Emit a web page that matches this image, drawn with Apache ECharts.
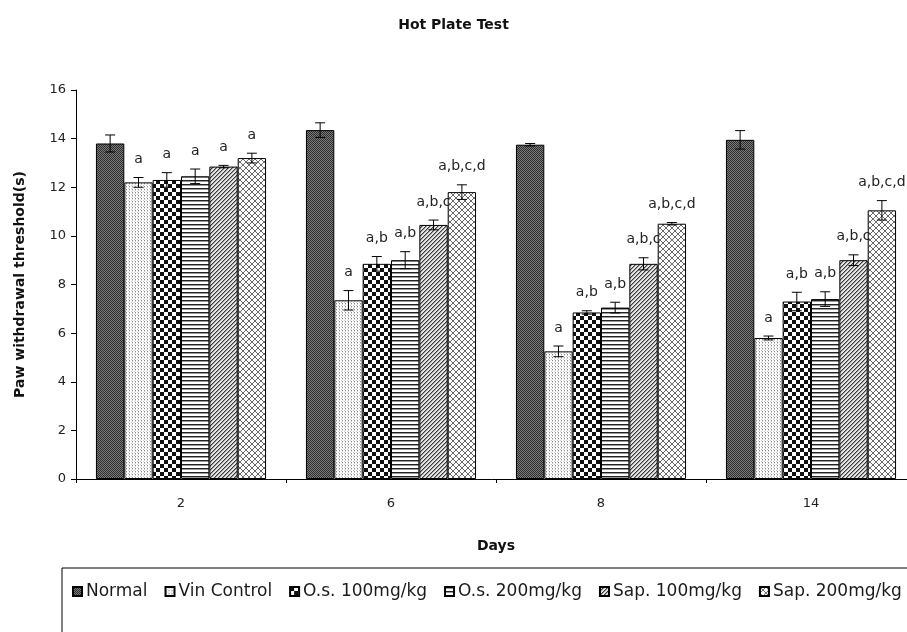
<!DOCTYPE html>
<html>
<head>
<meta charset="utf-8">
<script src="https://cdn.jsdelivr.net/npm/echarts@6/dist/echarts.min.js"></script>
<style>html,body{margin:0;padding:0;background:#fff;}#c{width:907px;height:632px;}</style>
</head>
<body>
<div id="c"></div>
<script>
// ---- data ----
var categories = ['2', '6', '8', '14'];
var seriesNames = ['Normal', 'Vin Control', 'O.s. 100mg/kg', 'O.s. 200mg/kg', 'Sap. 100mg/kg', 'Sap. 200mg/kg'];
var normal = [13.8, 14.35, 13.75, 13.95];
var vinControl = [12.2, 7.35, 5.25, 5.8];
var os100 = [12.3, 8.85, 6.85, 7.3];
var os200 = [12.45, 9.0, 7.05, 7.4];
var sap100 = [12.85, 10.45, 8.85, 9.0];
var sap200 = [13.2, 11.8, 10.5, 11.05];
var normalErr = [0.35, 0.3, 0.05, 0.38];
var vinControlErr = [0.2, 0.4, 0.22, 0.08];
var os100Err = [0.3, 0.3, 0.07, 0.38];
var os200Err = [0.3, 0.35, 0.22, 0.3];
var sap100Err = [0.05, 0.2, 0.25, 0.22];
var sap200Err = [0.2, 0.3, 0.05, 0.4];
var normalSig = ['', '', '', ''];
var vinControlSig = ['a', 'a', 'a', 'a'];
var os100Sig = ['a', 'a,b', 'a,b', 'a,b'];
var os200Sig = ['a', 'a,b', 'a,b', 'a,b'];
var sap100Sig = ['a', 'a,b,c', 'a,b,c', 'a,b,c'];
var sap200Sig = ['a', 'a,b,c,d', 'a,b,c,d', 'a,b,c,d'];
var yTicks = [0, 2, 4, 6, 8, 10, 12, 14, 16];

var values = [normal, vinControl, os100, os200, sap100, sap200];
var errs = [normalErr, vinControlErr, os100Err, os200Err, sap100Err, sap200Err];
var sigs = [normalSig, vinControlSig, os100Sig, os200Sig, sap100Sig, sap200Sig];

// ---- patterns ----
function makePattern(w, h, draw) {
  var c = document.createElement('canvas');
  c.width = w; c.height = h;
  var ctx = c.getContext('2d');
  draw(ctx, w, h);
  return { image: c, repeat: 'repeat' };
}
function px(ctx, x, y, col) { ctx.fillStyle = col; ctx.fillRect(x, y, 1, 1); }
var patterns = [
  // Normal: dark fine checker
  makePattern(2, 2, function (ctx) {
    px(ctx, 0, 0, '#2e2e2e'); px(ctx, 1, 1, '#2e2e2e');
    px(ctx, 1, 0, '#7a7a7a'); px(ctx, 0, 1, '#7a7a7a');
  }),
  // Vin Control: light dots
  makePattern(3, 3, function (ctx) {
    ctx.fillStyle = '#ffffff'; ctx.fillRect(0, 0, 3, 3);
    px(ctx, 0, 0, '#8a8a8a'); px(ctx, 0, 1, '#d0d0d0'); px(ctx, 2, 2, '#c8c8c8');
  }),
  // O.s. 100: bold checkerboard
  makePattern(8, 8, function (ctx) {
    ctx.fillStyle = '#ffffff'; ctx.fillRect(0, 0, 8, 8);
    ctx.fillStyle = '#111111'; ctx.fillRect(0, 0, 4, 4); ctx.fillRect(4, 4, 4, 4);
  }),
  // O.s. 200: horizontal stripes
  makePattern(4, 4, function (ctx) {
    ctx.fillStyle = '#ffffff'; ctx.fillRect(0, 0, 4, 4);
    ctx.fillStyle = '#222222'; ctx.fillRect(0, 0, 4, 1);
    ctx.fillStyle = '#9a9a9a'; ctx.fillRect(0, 1, 4, 1);
  }),
  // Sap. 100: fine diagonal lines
  makePattern(4, 4, function (ctx) {
    ctx.fillStyle = '#e4e4e4'; ctx.fillRect(0, 0, 4, 4);
    for (var i = 0; i < 4; i++) { px(ctx, i, 3 - i, '#3c3c3c'); px(ctx, (i + 1) % 4, 3 - i, '#9a9a9a'); }
  }),
  // Sap. 200: diagonal crosshatch
  makePattern(6, 6, function (ctx) {
    ctx.fillStyle = '#ffffff'; ctx.fillRect(0, 0, 6, 6);
    for (var i = 0; i < 6; i++) { px(ctx, i, i, '#6a6a6a'); px(ctx, i, 5 - i, '#6a6a6a'); }
  })
];

var FONT = 'DejaVu Sans';
var barGapRatio = 0.19;

var series = [];
for (var s = 0; s < seriesNames.length; s++) {
  series.push({
    name: seriesNames[s],
    type: 'bar',
    data: values[s],
    barGap: '0%',
    barCategoryGap: '19%',
    itemStyle: { color: patterns[s], borderColor: '#000', borderWidth: 1 },
    emphasis: { disabled: true }
  });
}

var errData = [];
for (var s2 = 0; s2 < values.length; s2++) {
  for (var k = 0; k < categories.length; k++) {
    errData.push([k, s2, values[s2][k], errs[s2][k], sigs[s2][k]]);
  }
}

series.push({
  name: 'errors',
  type: 'custom',
  data: errData,
  encode: { x: 0, y: 2 },
  z: 10,
  silent: true,
  clip: false,
  renderItem: function (params, api) {
    var cat = api.value(0), si = api.value(1), m = api.value(2), sd = api.value(3);
    var label = errData[params.dataIndex][4];
    var bandW = api.size([1, 0])[0];
    var n = seriesNames.length;
    var total = bandW * (1 - barGapRatio);
    var bw = total / n;
    var c = api.coord([cat, m]);
    var x = c[0] - total / 2 + (si + 0.5) * bw;
    var top = api.coord([cat, m + sd])[1];
    var bot = api.coord([cat, m - sd])[1];
    var cap = 5;
    var st = { stroke: '#000', lineWidth: 1 };
    var children = [
      { type: 'line', shape: { x1: x, y1: top, x2: x, y2: bot }, style: st },
      { type: 'line', shape: { x1: x - cap, y1: top, x2: x + cap, y2: top }, style: st },
      { type: 'line', shape: { x1: x - cap, y1: bot, x2: x + cap, y2: bot }, style: st }
    ];
    if (label) {
      children.push({
        type: 'text',
        style: { text: label, x: x, y: top - 11, align: 'center', verticalAlign: 'bottom',
                 fill: '#222', font: '14px "DejaVu Sans"' }
      });
    }
    return { type: 'group', children: children };
  }
});

var chart = echarts.init(document.getElementById('c'), null, { renderer: 'canvas' });
chart.setOption({
  backgroundColor: '#ffffff',
  animation: false,
  title: {
    text: 'Hot Plate Test', left: 'center', top: 13,
    textStyle: { fontFamily: FONT, fontWeight: 'bold', fontSize: 14, color: '#111' }
  },
  legend: {
    data: seriesNames,
    left: 72, top: 583, padding: 0,
    icon: 'rect', itemWidth: 9, itemHeight: 9, itemGap: 17,
    textStyle: { fontFamily: FONT, fontSize: 17, color: '#1a1a1a', padding: [0, 0, 0, -1] },
    selectedMode: false
  },
  graphic: [{
    type: 'rect', z: -1,
    shape: { x: 62, y: 568, width: 900, height: 100 },
    style: { fill: 'none', stroke: '#000', lineWidth: 1 }
  }],
  grid: { left: 76, width: 840, top: 90, height: 389, containLabel: false, outerBoundsMode: 'none' },
  xAxis: {
    type: 'category', data: categories,
    name: 'Days', nameLocation: 'middle', nameGap: 60,
    nameTextStyle: { fontFamily: FONT, fontWeight: 'bold', fontSize: 14, color: '#111' },
    axisLine: { lineStyle: { color: '#000', width: 1 } },
    axisTick: { show: true, length: 4, lineStyle: { color: '#000' } },
    axisLabel: { fontFamily: FONT, fontSize: 13, color: '#222', margin: 18 }
  },
  yAxis: {
    type: 'value', min: 0, max: 16, interval: 2,
    name: 'Paw withdrawal threshold(s)', nameLocation: 'middle', nameGap: 49, nameRotate: 90,
    nameTextStyle: { fontFamily: FONT, fontWeight: 'bold', fontSize: 14, color: '#111' },
    axisLine: { show: true, lineStyle: { color: '#000', width: 1 } },
    axisTick: { show: true, length: 5, lineStyle: { color: '#000' } },
    splitLine: { show: false },
    axisLabel: {
      fontFamily: FONT, fontSize: 13, color: '#222', margin: 10,
      formatter: function (v) { return yTicks.indexOf(v) >= 0 ? String(v) : ''; }
    }
  },
  series: series
});
</script>
</body>
</html>
